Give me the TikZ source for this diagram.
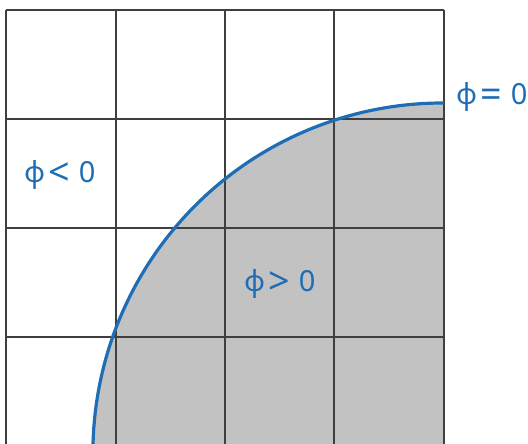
\documentclass[tikz,border=0pt]{standalone}
\usepackage{fontspec}
\setmainfont{Noto Sans}
\usepackage{tikz}
\definecolor{phiblue}{HTML}{1F6DB5}
\definecolor{regiongray}{HTML}{C1C2C1}
\definecolor{gridgray}{HTML}{3F3F3F}
\newcommand{\philabel}[1]{ϕ\kern3pt\raisebox{-3pt}{\scalebox{1.3}{#1}}\kern9pt0}

\begin{document}
\begin{tikzpicture}[
		x=1pt,
		y=-1pt,
		font=\fontsize{29}{30}\selectfont,
		gridline/.style={gridgray, line width=1.4pt},
		levelset/.style={phiblue, line width=3.2pt},
		phitext/.style={text=phiblue, inner sep=0pt}
		]
		\useasboundingbox (0,0) rectangle (528,444);
		\begin{scope}
		\clip (0,0) rectangle (528,444);
		
		% Level set curve (arc of a circle)
		\def\levelpath{plot[domain=181:89.8, samples=90, smooth] ({442.7+349.8*cos(\x)}, {452.8-349.8*sin(\x)})}
		
		% Inside region
		\fill[regiongray] \levelpath -- (444,470) -- (80,470) -- cycle;
		
		% Grid
		\foreach \x in {6,116,225,334,444}{
			\draw[gridline] (\x,10) -- (\x,450);
		}
		\foreach \y in {10,119,228,337}{
			\draw[gridline] (6,\y) -- (444,\y);
		}
		
		% Boundary
		\draw[levelset] \levelpath;
		\end{scope}
		
		% Labels
		\node[phitext, anchor=west] (neg) at (24,175) {\philabel{<}};
		\node[phitext, anchor=west] (pos) at (244,284) {\philabel{>}};
		\node[phitext, anchor=west] (zero) at (456,97) {\philabel{=}};
		
	\end{tikzpicture}
\end{document}
